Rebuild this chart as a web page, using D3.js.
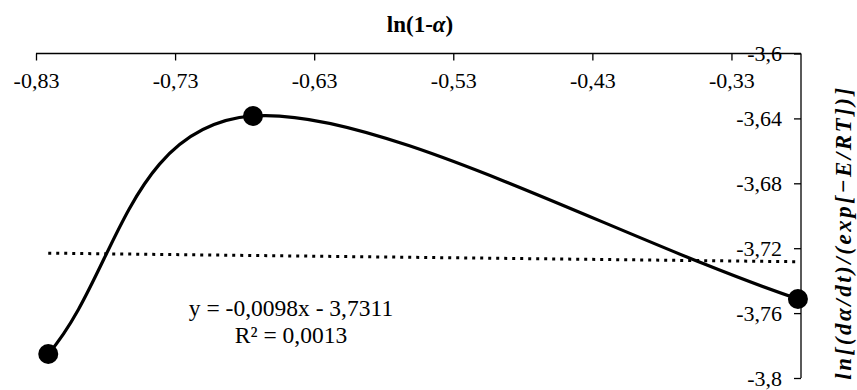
<!DOCTYPE html>
<html>
<head>
<meta charset="utf-8">
<script src="https://cdn.jsdelivr.net/npm/d3@7"></script>
<style>
  html, body { margin: 0; padding: 0; background: #fff; }
  svg { display: block; }
</style>
</head>
<body>
<svg id="chart" width="857" height="390"></svg>
<script>
// Measured points: ln(1-α) against ln[(dα/dt)/exp(-E/RT)]
const lnOneMinusAlpha = [-0.8212, -0.674, -0.2822];
const lnRate = [-3.7852, -3.6385, -3.7513];

// Axis ticks
const xTicks = [-0.83, -0.73, -0.63, -0.53, -0.43, -0.33];
const yTicks = [-3.6, -3.64, -3.68, -3.72, -3.76, -3.8];

// Linear trendline, as printed on the chart
const trendSlope = -0.0098;
const trendIntercept = -3.7311;
const r2 = 0.0013;

const FONT = "'Times New Roman'";
const fmt = (v, d) => v.toFixed(d).replace(".", ",");
const comma = v => String(+v.toFixed(4)).replace(".", ",");

const svg = d3.select("#chart");
const x = d3.scaleLinear().domain([-0.83, -0.28]).range([36, 801]);
const y = d3.scaleLinear().domain([-3.8, -3.6]).range([378, 53.5]);

// Top x axis (ticks point down into the plot)
const xAxis = svg.append("g")
  .attr("transform", `translate(0,${y(-3.6)})`)
  .call(d3.axisBottom(x).tickValues(xTicks).tickSize(7).tickPadding(12).tickFormat(comma));
xAxis.select(".domain").attr("d", `M${x(-0.83)},0H${x(-0.28)}`).attr("stroke-width", 1.3);
xAxis.selectAll(".tick line").attr("stroke-width", 1.3);
xAxis.selectAll(".tick text").style("font-family", FONT).style("font-size", "22px");

// Right y axis (ticks point left into the plot)
const yAxis = svg.append("g")
  .attr("transform", `translate(${x(-0.28)},0)`)
  .call(d3.axisLeft(y).tickValues(yTicks).tickSize(7).tickPadding(12).tickFormat(comma));
yAxis.select(".domain").attr("d", `M0,${y(-3.6)}V${y(-3.8)}`).attr("stroke-width", 1.3);
yAxis.selectAll(".tick line").attr("stroke-width", 1.3);
yAxis.selectAll(".tick text").style("font-family", FONT).style("font-size", "22px");

// Trendline across the data range
const [xMin, xMax] = d3.extent(lnOneMinusAlpha);
svg.append("line")
  .attr("x1", x(xMin)).attr("y1", y(trendSlope * xMin + trendIntercept))
  .attr("x2", x(xMax)).attr("y2", y(trendSlope * xMax + trendIntercept))
  .attr("stroke", "#000").attr("stroke-width", 3)
  .attr("stroke-dasharray", "3,5");

// Smoothed series line: cubic Bézier segments whose handles are one sixth of
// the neighbour chord; the end points mirror their neighbour.
const pts = lnOneMinusAlpha.map((v, i) => [x(v), y(lnRate[i])]);
function smoothPath(p) {
  const path = d3.path();
  const n = p.length;
  const at = i => {
    if (i < 0) return [2 * p[0][0] - p[1][0], 2 * p[0][1] - p[1][1]];
    if (i >= n) return [2 * p[n - 1][0] - p[n - 2][0], 2 * p[n - 1][1] - p[n - 2][1]];
    return p[i];
  };
  path.moveTo(p[0][0], p[0][1]);
  for (let i = 0; i < n - 1; i++) {
    const a = at(i - 1), b = p[i], c = p[i + 1], d = at(i + 2);
    path.bezierCurveTo(
      b[0] + (c[0] - a[0]) / 6, b[1] + (c[1] - a[1]) / 6,
      c[0] - (d[0] - b[0]) / 6, c[1] - (d[1] - b[1]) / 6,
      c[0], c[1]);
  }
  return path.toString();
}
svg.append("path")
  .attr("fill", "none").attr("stroke", "#000").attr("stroke-width", 3.2)
  .attr("d", smoothPath(pts));

svg.append("g").selectAll("circle").data(pts).join("circle")
  .attr("cx", d => d[0]).attr("cy", d => d[1]).attr("r", 10).attr("fill", "#000");

// Trendline equation
const eq = svg.append("text").attr("text-anchor", "middle")
  .style("font-family", FONT).style("font-size", "23.5px");
eq.append("tspan").attr("x", 291).attr("y", 316)
  .text(`y = ${fmt(trendSlope, 4)}x - ${fmt(-trendIntercept, 4)}`);
eq.append("tspan").attr("x", 291).attr("y", 343)
  .text(`R² = ${fmt(r2, 4)}`);

// Axis titles
const xTitle = svg.append("text").attr("x", 420).attr("y", 32)
  .attr("text-anchor", "middle")
  .style("font-family", FONT).style("font-size", "23px").style("font-weight", "bold");
xTitle.append("tspan").text("ln(1-");
xTitle.append("tspan").style("font-style", "italic").text("α");
xTitle.append("tspan").text(")");

svg.append("text")
  .attr("transform", `translate(851,${(y(-3.6) + y(-3.8)) / 2 + 18}) rotate(-90)`)
  .attr("text-anchor", "middle")
  .attr("textLength", 292).attr("lengthAdjust", "spacing")
  .style("font-family", FONT).style("font-size", "23px")
  .style("font-weight", "bold").style("font-style", "italic")
  .text("ln[(dα/dt)/(exp[−E/RT])]");
</script>
</body>
</html>
